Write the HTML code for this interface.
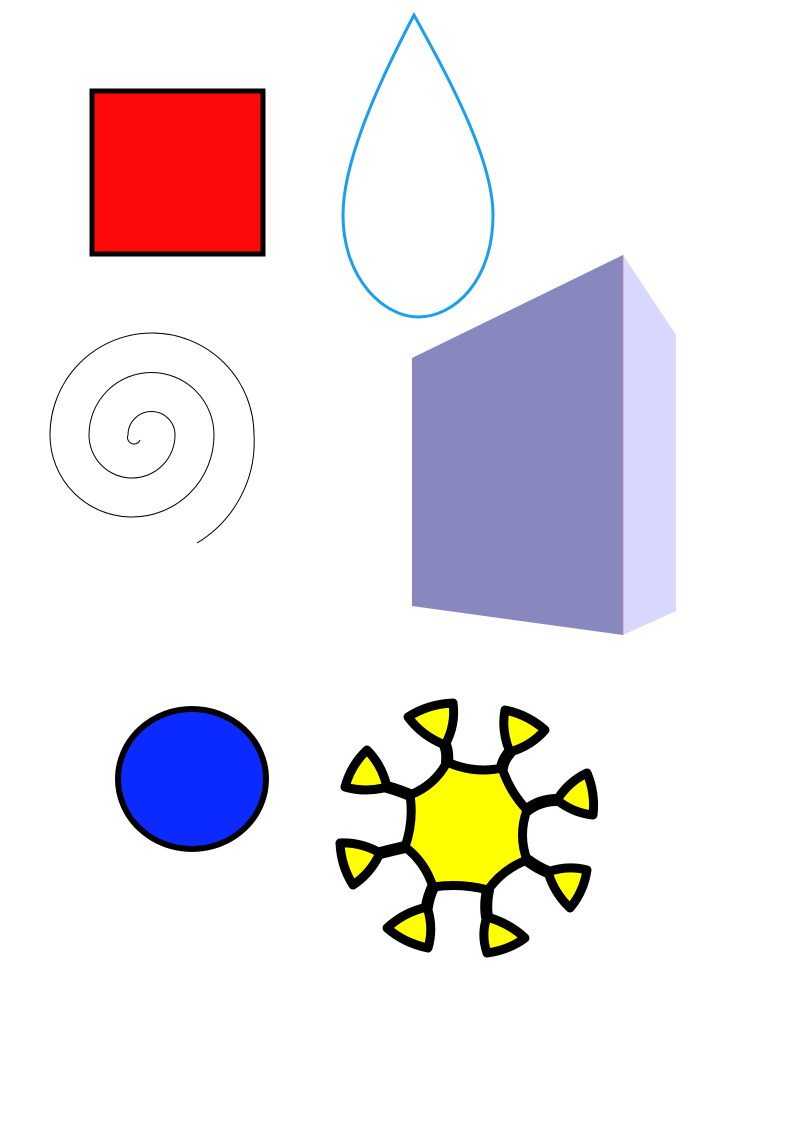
<!DOCTYPE html>
<html><head><meta charset="utf-8"><style>html,body{margin:0;padding:0;background:#fff}svg{display:block}</style></head>
<body>
<svg width="794" height="1123" viewBox="0 0 794 1123" xmlns="http://www.w3.org/2000/svg">
<rect x="92" y="91" width="171" height="163" fill="#ff0a0a" stroke="#000" stroke-width="5"/>
<path d="M414,15 C380,80 343,160 343,215 C343,280 385,317 418,317 C455,317 493,280 493,215 C493,160 450,80 414,15 Z" fill="none" stroke="#1a9ff0" stroke-width="3"/>
<path d="M140,440 A6,6 0 0 1 128,435 A23.5,23.5 0 0 1 175,435 A43,43 0 0 1 89,435 A62.5,62.5 0 0 1 214,435 A82,82 0 0 1 50,435 A102,102 0 0 1 254,435 A118,118 0 0 1 197,543" fill="none" stroke="#000" stroke-width="1"/>
<polygon points="412,358 623,255 623,635 412,606" fill="#8888bf"/>
<polygon points="623,255 676,335 676,611 623,635" fill="#d8d8ff"/>
<line x1="623" y1="255" x2="623" y2="635" stroke="#c080a0" stroke-width="0.7"/>
<ellipse cx="192" cy="779" rx="74" ry="70" fill="#0a2aff" stroke="#000" stroke-width="6"/>
<g stroke="#000" stroke-width="12" stroke-linecap="round" fill="none">
<path d="M447,762 Q448,752 445,745"/>
<path d="M502,768 Q503,760 510,752"/>
<path d="M527,810 Q540,800 557,800"/>
<path d="M527,860 Q538,868 548,872"/>
<path d="M488,890 Q485,905 487,917"/>
<path d="M433,887 Q428,898 427,907"/>
<path d="M405,847 Q392,850 380,853"/>
<path d="M410,795 Q398,790 387,787"/>
</g>
<g stroke="#000" stroke-width="9" stroke-linejoin="round" fill="#ffff00">
<path d="M408,717 Q428,704 453,703 Q456,725 445,745 Q422,736 408,717 Z"/>
<path d="M505,710 Q527.5,714.6 545,730 Q531,746 510,752 Q501,731 505,710 Z"/>
<path d="M557,800 Q568.5,781.7 587,773 Q595.5,793 593,815 Q573,813 557,800 Z"/>
<path d="M548,872 Q567,865 587,870 Q583.6,892 570,908 Q554.4,893.4 548,872 Z"/>
<path d="M487,917 Q509,923 525,938 Q509,950 487,953 Q480.7,934.5 487,917 Z"/>
<path d="M387,928 Q403.5,912.4 427,907 Q434,927.5 428,948 Q404,943 387,928 Z"/>
<path d="M340,843 Q361,842 380,853 Q371,873 353,885 Q341,866 340,843 Z"/>
<path d="M345,787 Q351,765 367,750 Q382,765 387,787 Q366,793 345,787 Z"/>
<path d="M447,762 Q474,774 502,768 Q510,792 527,810 Q518,835 527,860 Q503,869 488,890 Q461,883 433,887 Q425,862 405,847 Q414,821 410,795 Q435,785 447,762 Z"/>
</g>
</svg>
</body></html>
